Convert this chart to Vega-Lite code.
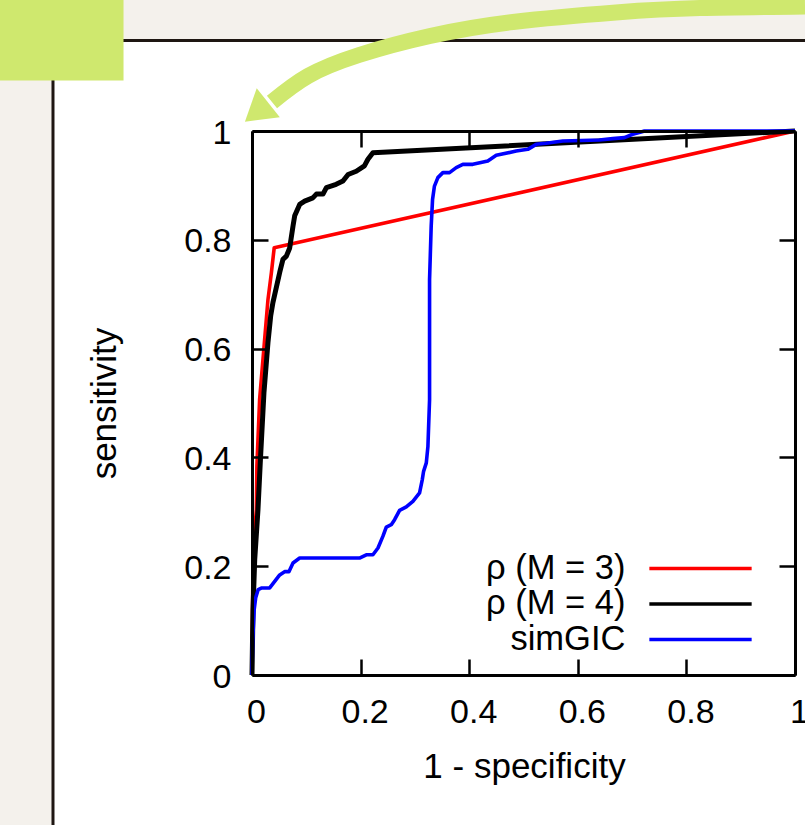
{
  "$schema": "https://vega.github.io/schema/vega-lite/v6.json",
  "width": 543,
  "height": 544,
  "autosize": {"type": "none"},
  "padding": {"left": 252, "top": 131, "right": 10, "bottom": 150},
  "background": "#f4f1ec",
  "config": {
    "view": {"stroke": null},
    "axis": {
      "grid": false,
      "domain": true,
      "domainColor": "#000000",
      "domainWidth": 3,
      "tickColor": "#000000",
      "tickWidth": 2.5,
      "tickSize": -16,
      "labelFont": "Liberation Sans",
      "labelFontSize": 34,
      "labelColor": "#000000",
      "labelFlush": false,
      "labelOverlap": false,
      "titleFont": "Liberation Sans",
      "titleFontSize": 35,
      "titleFontWeight": "normal",
      "titleColor": "#000000"
    }
  },
  "datasets": {
    "roc": [
      {"series": "ρ (M = 3)", "fpr": 0, "tpr": 0},
      {"series": "ρ (M = 3)", "fpr": 0.002, "tpr": 0.225},
      {"series": "ρ (M = 3)", "fpr": 0.008, "tpr": 0.304},
      {"series": "ρ (M = 3)", "fpr": 0.009, "tpr": 0.384},
      {"series": "ρ (M = 3)", "fpr": 0.014, "tpr": 0.506},
      {"series": "ρ (M = 3)", "fpr": 0.0294, "tpr": 0.69},
      {"series": "ρ (M = 3)", "fpr": 0.0357, "tpr": 0.7395},
      {"series": "ρ (M = 3)", "fpr": 0.0409, "tpr": 0.7855},
      {"series": "ρ (M = 3)", "fpr": 1, "tpr": 1},
      {"series": "ρ (M = 4)", "fpr": 0, "tpr": 0},
      {"series": "ρ (M = 4)", "fpr": 0.0018, "tpr": 0.12},
      {"series": "ρ (M = 4)", "fpr": 0.005, "tpr": 0.212},
      {"series": "ρ (M = 4)", "fpr": 0.011, "tpr": 0.304},
      {"series": "ρ (M = 4)", "fpr": 0.0155, "tpr": 0.396},
      {"series": "ρ (M = 4)", "fpr": 0.022, "tpr": 0.519},
      {"series": "ρ (M = 4)", "fpr": 0.0294, "tpr": 0.611},
      {"series": "ρ (M = 4)", "fpr": 0.0344, "tpr": 0.66},
      {"series": "ρ (M = 4)", "fpr": 0.0386, "tpr": 0.685},
      {"series": "ρ (M = 4)", "fpr": 0.051, "tpr": 0.74},
      {"series": "ρ (M = 4)", "fpr": 0.057, "tpr": 0.764},
      {"series": "ρ (M = 4)", "fpr": 0.0633, "tpr": 0.77},
      {"series": "ρ (M = 4)", "fpr": 0.0694, "tpr": 0.785},
      {"series": "ρ (M = 4)", "fpr": 0.0755, "tpr": 0.825},
      {"series": "ρ (M = 4)", "fpr": 0.0786, "tpr": 0.844},
      {"series": "ρ (M = 4)", "fpr": 0.0878, "tpr": 0.865},
      {"series": "ρ (M = 4)", "fpr": 0.097, "tpr": 0.871},
      {"series": "ρ (M = 4)", "fpr": 0.112, "tpr": 0.877},
      {"series": "ρ (M = 4)", "fpr": 0.1185, "tpr": 0.884},
      {"series": "ρ (M = 4)", "fpr": 0.1307, "tpr": 0.884},
      {"series": "ρ (M = 4)", "fpr": 0.137, "tpr": 0.896},
      {"series": "ρ (M = 4)", "fpr": 0.155, "tpr": 0.902},
      {"series": "ρ (M = 4)", "fpr": 0.1675, "tpr": 0.908},
      {"series": "ρ (M = 4)", "fpr": 0.177, "tpr": 0.92},
      {"series": "ρ (M = 4)", "fpr": 0.192, "tpr": 0.926},
      {"series": "ρ (M = 4)", "fpr": 0.207, "tpr": 0.936},
      {"series": "ρ (M = 4)", "fpr": 0.2135, "tpr": 0.948},
      {"series": "ρ (M = 4)", "fpr": 0.2227, "tpr": 0.96},
      {"series": "ρ (M = 4)", "fpr": 1, "tpr": 1},
      {"series": "simGIC", "fpr": 0, "tpr": 0},
      {"series": "simGIC", "fpr": 0.0013, "tpr": 0.065},
      {"series": "simGIC", "fpr": 0.004, "tpr": 0.12},
      {"series": "simGIC", "fpr": 0.0068, "tpr": 0.142},
      {"series": "simGIC", "fpr": 0.0114, "tpr": 0.157},
      {"series": "simGIC", "fpr": 0.018, "tpr": 0.16},
      {"series": "simGIC", "fpr": 0.0326, "tpr": 0.16},
      {"series": "simGIC", "fpr": 0.0418, "tpr": 0.172},
      {"series": "simGIC", "fpr": 0.051, "tpr": 0.184},
      {"series": "simGIC", "fpr": 0.06, "tpr": 0.19},
      {"series": "simGIC", "fpr": 0.068, "tpr": 0.19},
      {"series": "simGIC", "fpr": 0.0755, "tpr": 0.206},
      {"series": "simGIC", "fpr": 0.0878, "tpr": 0.215},
      {"series": "simGIC", "fpr": 0.198, "tpr": 0.215},
      {"series": "simGIC", "fpr": 0.2105, "tpr": 0.221},
      {"series": "simGIC", "fpr": 0.2227, "tpr": 0.221},
      {"series": "simGIC", "fpr": 0.232, "tpr": 0.2335},
      {"series": "simGIC", "fpr": 0.241, "tpr": 0.2548},
      {"series": "simGIC", "fpr": 0.2473, "tpr": 0.272},
      {"series": "simGIC", "fpr": 0.2565, "tpr": 0.2764},
      {"series": "simGIC", "fpr": 0.2626, "tpr": 0.2856},
      {"series": "simGIC", "fpr": 0.2718, "tpr": 0.3027},
      {"series": "simGIC", "fpr": 0.2841, "tpr": 0.3089},
      {"series": "simGIC", "fpr": 0.2963, "tpr": 0.3192},
      {"series": "simGIC", "fpr": 0.3086, "tpr": 0.3347},
      {"series": "simGIC", "fpr": 0.3136, "tpr": 0.3592},
      {"series": "simGIC", "fpr": 0.316, "tpr": 0.3744},
      {"series": "simGIC", "fpr": 0.321, "tpr": 0.3899},
      {"series": "simGIC", "fpr": 0.324, "tpr": 0.4204},
      {"series": "simGIC", "fpr": 0.327, "tpr": 0.5063},
      {"series": "simGIC", "fpr": 0.327, "tpr": 0.7271},
      {"series": "simGIC", "fpr": 0.33, "tpr": 0.8252},
      {"series": "simGIC", "fpr": 0.3325, "tpr": 0.874},
      {"series": "simGIC", "fpr": 0.336, "tpr": 0.8988},
      {"series": "simGIC", "fpr": 0.3423, "tpr": 0.9143},
      {"series": "simGIC", "fpr": 0.3515, "tpr": 0.9235},
      {"series": "simGIC", "fpr": 0.3638, "tpr": 0.9235},
      {"series": "simGIC", "fpr": 0.3761, "tpr": 0.9327},
      {"series": "simGIC", "fpr": 0.3883, "tpr": 0.9387},
      {"series": "simGIC", "fpr": 0.4067, "tpr": 0.9387},
      {"series": "simGIC", "fpr": 0.4343, "tpr": 0.9448},
      {"series": "simGIC", "fpr": 0.4498, "tpr": 0.9553},
      {"series": "simGIC", "fpr": 0.4866, "tpr": 0.9632},
      {"series": "simGIC", "fpr": 0.5079, "tpr": 0.9663},
      {"series": "simGIC", "fpr": 0.5234, "tpr": 0.9755},
      {"series": "simGIC", "fpr": 0.5418, "tpr": 0.9774},
      {"series": "simGIC", "fpr": 0.5723, "tpr": 0.9816},
      {"series": "simGIC", "fpr": 0.6398, "tpr": 0.9834},
      {"series": "simGIC", "fpr": 0.6643, "tpr": 0.986},
      {"series": "simGIC", "fpr": 0.6859, "tpr": 0.9879},
      {"series": "simGIC", "fpr": 0.7011, "tpr": 0.994},
      {"series": "simGIC", "fpr": 0.7166, "tpr": 0.9982},
      {"series": "simGIC", "fpr": 0.7227, "tpr": 1},
      {"series": "simGIC", "fpr": 1, "tpr": 1}
    ]
  },
  "resolve": {"axis": {"x": "independent", "y": "independent"}},
  "layer": [
    {
      "data": {"values": [{"x": -0.367, "x2": 1.05, "y": -0.3, "y2": 1.1673}]},
      "mark": {"type": "rect", "fill": "#ffffff"},
      "encoding": {
        "x": {"field": "x", "type": "quantitative", "scale": {"domain": [0, 1], "nice": false, "zero": false},
              "axis": {"orient": "top", "labels": false, "title": null, "values": [0, 0.2, 0.4, 0.6, 0.8, 1], "zindex": 2}},
        "x2": {"field": "x2"},
        "y": {"field": "y", "type": "quantitative", "scale": {"domain": [0, 1], "nice": false, "zero": false},
              "axis": {"orient": "right", "labels": false, "title": null, "values": [0, 0.2, 0.4, 0.6, 0.8, 1], "zindex": 2}},
        "y2": {"field": "y2"}
      }
    },
    {
      "data": {"values": [{"x": -0.2376, "x2": 1.05, "y": 1.1664}]},
      "mark": {"type": "rule", "stroke": "#1e1612", "strokeWidth": 3},
      "encoding": {
        "x": {"field": "x", "type": "quantitative", "scale": {"domain": [0, 1]}, "axis": null},
        "x2": {"field": "x2"},
        "y": {"field": "y", "type": "quantitative", "scale": {"domain": [0, 1]}, "axis": null}
      }
    },
    {
      "data": {"values": [{"x": -0.3665, "y": 1.0938, "y2": -0.3}]},
      "mark": {"type": "rule", "stroke": "#1e1612", "strokeWidth": 3},
      "encoding": {
        "x": {"field": "x", "type": "quantitative", "scale": {"domain": [0, 1]}, "axis": null},
        "y": {"field": "y", "type": "quantitative", "scale": {"domain": [0, 1]}, "axis": null},
        "y2": {"field": "y2"}
      }
    },
    {
      "data": {"values": [{"x": -0.5, "x2": -0.2366, "y": 1.0928, "y2": 1.3}]},
      "mark": {"type": "rect", "fill": "#cfe86e"},
      "encoding": {
        "x": {"field": "x", "type": "quantitative", "scale": {"domain": [0, 1]}, "axis": null},
        "x2": {"field": "x2"},
        "y": {"field": "y", "type": "quantitative", "scale": {"domain": [0, 1]}, "axis": null},
        "y2": {"field": "y2"}
      }
    },
    {
      "data": {"values": [
        {"x": 1.0184, "y": 1.2290},
        {"x": 0.8250, "y": 1.2260},
        {"x": 0.6703, "y": 1.2180},
        {"x": 0.4807, "y": 1.2004},
        {"x": 0.3278, "y": 1.1746},
        {"x": 0.1971, "y": 1.1397},
        {"x": 0.1031, "y": 1.1011},
        {"x": 0.0368, "y": 1.0533}
      ]},
      "mark": {"type": "line", "stroke": "#cfe86e", "strokeWidth": 16, "interpolate": "natural", "strokeCap": "butt"},
      "encoding": {
        "x": {"field": "x", "type": "quantitative", "scale": {"domain": [0, 1]}, "axis": null},
        "y": {"field": "y", "type": "quantitative", "scale": {"domain": [0, 1]}, "axis": null},
        "order": {"value": null}
      }
    },
    {
      "data": {"values": [{"x": 0.0157, "y": 1.0403}]},
      "mark": {"type": "point", "filled": true, "fill": "#cfe86e", "opacity": 1, "size": 1764, "shape": "M-0.181,-0.99L0.919,0.39L-0.743,0.6Z"},
      "encoding": {
        "x": {"field": "x", "type": "quantitative", "scale": {"domain": [0, 1]}, "axis": null},
        "y": {"field": "y", "type": "quantitative", "scale": {"domain": [0, 1]}, "axis": null}
      }
    },
    {
      "data": {"name": "roc"},
      "transform": [{"filter": "datum.series === 'ρ (M = 3)'"}],
      "mark": {"type": "line", "strokeWidth": 3.6, "strokeJoin": "round"},
      "encoding": {
        "x": {"field": "fpr", "type": "quantitative", "scale": {"domain": [0, 1]},
              "axis": {"orient": "bottom", "values": [0, 0.2, 0.4, 0.6, 0.8, 1], "format": "~g", "title": "1 - specificity",
                       "labelPadding": 63.5, "labelBaseline": "alphabetic", "labelOffset": 4,
                       "titleBaseline": "alphabetic", "titleX": 272, "titleY": 102, "zindex": 2}},
        "y": {"field": "tpr", "type": "quantitative", "scale": {"domain": [0, 1]},
              "axis": {"orient": "left", "values": [0, 0.2, 0.4, 0.6, 0.8, 1], "format": "~g", "title": "sensitivity",
                       "labelPadding": 37, "labelBaseline": "alphabetic", "labelOffset": 12,
                       "titleBaseline": "alphabetic", "titleX": -137, "titleY": 272, "zindex": 2}},
        "color": {"field": "series", "type": "nominal",
                  "scale": {"domain": ["ρ (M = 3)", "ρ (M = 4)", "simGIC"], "range": ["#ff0000", "#000000", "#0000ff"]},
                  "legend": {"title": null, "orient": "none", "legendX": 431, "legendY": 420, "direction": "vertical",
                             "symbolType": "M-3.3,0H3.3", "symbolSize": 961, "symbolStrokeWidth": 3.6,
                             "labelAlign": "right", "labelOffset": -92.6, "labelFont": "Liberation Sans", "labelFontSize": 34.5,
                             "labelColor": "#000000", "labelLimit": 400, "rowPadding": 0.5, "padding": 0}},
        "order": {"value": null}
      }
    },
    {
      "data": {"name": "roc"},
      "transform": [{"filter": "datum.series === 'ρ (M = 4)'"}],
      "mark": {"type": "line", "strokeWidth": 5, "strokeJoin": "round"},
      "encoding": {
        "x": {"field": "fpr", "type": "quantitative", "scale": {"domain": [0, 1]}, "axis": null},
        "y": {"field": "tpr", "type": "quantitative", "scale": {"domain": [0, 1]}, "axis": null},
        "color": {"field": "series", "type": "nominal"},
        "order": {"value": null}
      }
    },
    {
      "data": {"name": "roc"},
      "transform": [{"filter": "datum.series === 'simGIC'"}],
      "mark": {"type": "line", "strokeWidth": 3.6, "strokeJoin": "round"},
      "encoding": {
        "x": {"field": "fpr", "type": "quantitative", "scale": {"domain": [0, 1]}, "axis": null},
        "y": {"field": "tpr", "type": "quantitative", "scale": {"domain": [0, 1]}, "axis": null},
        "color": {"field": "series", "type": "nominal"},
        "order": {"value": null}
      }
    }
  ]
}
